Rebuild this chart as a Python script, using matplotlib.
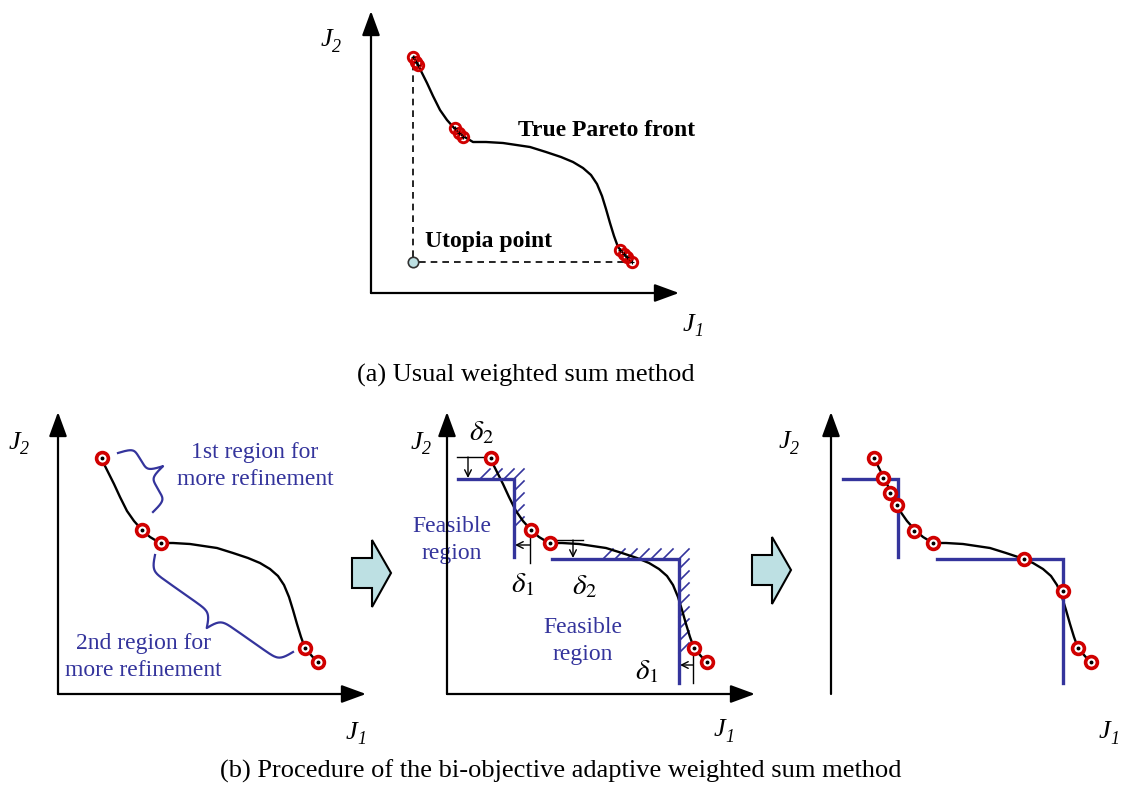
import numpy as np
import matplotlib.pyplot as plt
from matplotlib.patches import Polygon

plt.rcParams['font.family'] = ['Liberation Serif', 'DejaVu Serif']
plt.rcParams['mathtext.fontset'] = 'stix'

W, H = 1127, 790

# Pareto front (same curve in all four sketches), J1/J2 measured from the origin
front_j1 = [43, 47, 52, 56, 62, 69, 76, 84, 92, 102, 115, 132, 159, 175, 190,
            202, 212, 220, 226, 231, 235, 239, 243, 247, 253, 260]
front_j2 = [236, 228, 218, 210, 197, 183, 173, 164, 157, 151, 151, 150, 146, 141, 136,
            131, 125, 118, 109, 97, 84, 70, 57, 46, 39, 31]

# (a) usual weighted sum: solutions cluster in three places
sol_a_j1 = [42, 45, 47, 84, 88, 92, 249, 253, 256, 261]
sol_a_j2 = [236, 231, 228, 165, 160, 156, 43, 39, 36, 31]
utopia_j1 = [42]
utopia_j2 = [31]

# (b) step 1: initial solutions
sol_b1_j1 = [44, 84, 103, 247, 260]
sol_b1_j2 = [236, 164, 151, 46, 32]

# (b) step 3: refined solutions
sol_b3_j1 = [43, 52, 59, 66, 83, 102, 193, 232, 247, 260]
sol_b3_j2 = [236, 216, 201, 189, 163, 151, 135, 103, 46, 32]

# constraint lines of the two sub-problems
con_start_j1 = [11, 105]
con_corner_j1 = [67, 232]
con_corner_j2 = [215, 135]
con_end_j2 = [137, 11]

# panel origins in pixels (x, y from top)
origins = [(371, 293), (58, 694), (447, 694), (831, 694)]

BLUE = '#34349c'
RED = '#d00000'
CYAN = '#bde0e3'

fig = plt.figure(figsize=(W / 100, H / 100), dpi=100)

# background axes in pixels for the big block arrows
bg = fig.add_axes([0, 0, 1, 1])
bg.set_xlim(0, W)
bg.set_ylim(H, 0)
bg.axis('off')
for dx, dy in [(0, 0), (400, -3)]:
    pts = np.array([(352, 558), (372, 558), (372, 540), (391, 573),
                    (372, 607), (372, 588), (352, 588)]) + [dx, dy]
    bg.add_patch(Polygon(pts, closed=True, fc=CYAN, ec='black', lw=1.5))


def panel(k):
    ox, oy = origins[k]
    ax = fig.add_axes([0, 0, 1, 1])
    ax.set_xlim(-ox, W - ox)
    ax.set_ylim(oy - H, oy)
    ax.axis('off')
    ax.patch.set_alpha(0)
    style = '-|>,head_length=1.5,head_width=0.55'
    ax.annotate('', xy=(0, 282), xytext=(0, 0),
                arrowprops=dict(arrowstyle=style, lw=1.6, color='black',
                                shrinkA=0, shrinkB=0, mutation_scale=10))
    ax.annotate('', xy=(308, 0), xytext=(0, 0),
                arrowprops=dict(arrowstyle=style, lw=1.6, color='black',
                                shrinkA=0, shrinkB=0, mutation_scale=10))
    return ax


def j_label(ax, pos, sub):
    # italic J with an italic subscript, as in the original sketch
    x, y = pos
    ax.text(x + 2, y, 'J', fontsize=19, fontstyle='italic', ha='right', va='center')
    ax.text(x + 2, y - 7, sub, fontsize=13, fontstyle='italic', ha='left', va='center')


def label_axes(ax, j2_pos, j1_pos):
    j_label(ax, j2_pos, '2')
    j_label(ax, j1_pos, '1')


def solutions(ax, j1, j2, ms=8.5, mew=2.6):
    ax.plot(j1, j2, 'o', ms=ms, mfc='white', mec=RED, mew=mew, zorder=5)
    ax.plot(j1, j2, 'o', ms=1.8, color='black', zorder=6)


def brace(ax, p0, p1, width, beta):
    p0 = np.array(p0, float)
    p1 = np.array(p1, float)
    d = p1 - p0
    L = np.hypot(*d)
    u = d / L
    n = np.array([-u[1], u[0]])
    s = np.linspace(0, L / 2, 120)
    h = 1 / (1 + np.exp(-beta * s)) + 1 / (1 + np.exp(-beta * (s - L / 2))) - 0.5
    s_all = np.concatenate([s, L - s[::-1]])
    h_all = np.concatenate([h, h[::-1]]) * width
    pts = p0 + np.outer(s_all, u) + np.outer(h_all, n)
    ax.plot(pts[:, 0], pts[:, 1], color=BLUE, lw=1.6)


# ---------------- (a) usual weighted sum method ----------------
ax = panel(0)
label_axes(ax, (-41, 253), (321, -32))
ax.plot(front_j1, front_j2, color='black', lw=1.7, zorder=3)
ax.plot([utopia_j1[0], utopia_j1[0]], [utopia_j2[0] + 5, 226], '--', color='black', lw=1.2, dashes=(4, 3))
ax.plot([utopia_j1[0] + 6, 259], [utopia_j2[0], utopia_j2[0]], '--', color='black', lw=1.2, dashes=(4, 3))
ax.plot(utopia_j1, utopia_j2, 'o', ms=7.5, mfc=CYAN, mec='#333333', mew=1.2, zorder=5)
ax.plot(sol_a_j1, sol_a_j2, 'o', ms=7.5, mfc='none', mec=RED, mew=2.1, zorder=5)
ax.plot(sol_a_j1, sol_a_j2, '+', ms=3, color='black', mew=0.8, zorder=6)
ax.text(147, 162, 'True Pareto front', fontsize=17, fontweight='bold', va='center')
ax.text(54, 51, 'Utopia point', fontsize=17, fontweight='bold', va='center')

# ---------------- (b) step 1 ----------------
ax = panel(1)
label_axes(ax, (-40, 251), (297, -39))
ax.plot(front_j1, front_j2, color='black', lw=1.7, zorder=3)
solutions(ax, sol_b1_j1, sol_b1_j2)
brace(ax, (60, 241), (95, 182), 32, 0.5)
brace(ax, (235, 42), (97, 139), 30, 0.3)
ax.text(197, 228, '1st region for\nmore refinement', fontsize=17, color=BLUE,
        ha='center', va='center', linespacing=1.35)
ax.text(85, 37, '2nd region for\nmore refinement', fontsize=17, color=BLUE,
        ha='center', va='center', linespacing=1.35)

# ---------------- (b) step 2: sub-problems with constraints ----------------
ax = panel(2)
label_axes(ax, (-27, 251), (276, -36))
ax.plot(front_j1, front_j2, color='black', lw=1.7, zorder=3)
for x0, xc, yc, y1 in zip(con_start_j1, con_corner_j1, con_corner_j2, con_end_j2):
    ax.plot([x0, xc, xc], [yc, yc, y1], color=BLUE, lw=2.4, solid_joinstyle='miter', zorder=4)
# hatching on the infeasible side
for x in [33, 45, 57]:
    ax.plot([x, x + 10], [215, 225], color=BLUE, lw=1.2)
for y in [167, 179, 191, 203, 215]:
    ax.plot([67, 77], [y, y + 10], color=BLUE, lw=1.2)
for x in [156, 168, 180, 192, 204, 216]:
    ax.plot([x, x + 10], [135, 145], color=BLUE, lw=1.2)
for y in [41, 53, 65, 77, 89, 101, 113, 125, 135]:
    ax.plot([232, 242], [y, y + 10], color=BLUE, lw=1.2)
solutions(ax, sol_b1_j1, sol_b1_j2)

# delta offsets
arr = dict(arrowstyle='->', lw=1.0, color='black', shrinkA=0, shrinkB=0, mutation_scale=12)
ax.plot([10, 43], [237, 237], color='black', lw=1.0)
ax.annotate('', xy=(21, 216), xytext=(21, 237), arrowprops=arr)
ax.text(35, 261, r'$\delta_2$', fontsize=21, ha='center', va='center')
ax.plot([83, 83], [163, 131], color='black', lw=1.0)
ax.annotate('', xy=(68, 149), xytext=(83, 149), arrowprops=arr)
ax.text(76, 109, r'$\delta_1$', fontsize=21, ha='center', va='center')
ax.plot([103, 136], [154, 154], color='black', lw=1.0)
ax.annotate('', xy=(126, 136), xytext=(126, 154), arrowprops=arr)
ax.text(138, 107, r'$\delta_2$', fontsize=21, ha='center', va='center')
ax.plot([246, 246], [46, 11], color='black', lw=1.0)
ax.annotate('', xy=(233, 29), xytext=(246, 29), arrowprops=arr)
ax.text(200, 22, r'$\delta_1$', fontsize=21, ha='center', va='center')

ax.text(5, 154, 'Feasible\nregion', fontsize=17, color=BLUE, ha='center', va='center',
        linespacing=1.35, bbox=dict(fc='white', ec='none', pad=0), zorder=2)
ax.text(136, 53, 'Feasible\nregion', fontsize=17, color=BLUE, ha='center', va='center',
        linespacing=1.35)

# ---------------- (b) step 3: refined solutions ----------------
ax = panel(3)
label_axes(ax, (-43, 252), (277, -38))
ax.plot(front_j1, front_j2, color='black', lw=1.7, zorder=3)
for x0, xc, yc, y1 in zip(con_start_j1, con_corner_j1, con_corner_j2, con_end_j2):
    ax.plot([x0 + 1, xc, xc], [yc, yc, y1], color=BLUE, lw=2.4, solid_joinstyle='miter', zorder=4)
solutions(ax, sol_b3_j1, sol_b3_j2)

fig.text(526 / W, 1 - 375 / H, '(a) Usual weighted sum method', fontsize=19,
         ha='center', va='center')
fig.text(561 / W, 1 - 771 / H, '(b) Procedure of the bi-objective adaptive weighted sum method',
         fontsize=19, ha='center', va='center')

fig.savefig('out.png', dpi=100)
